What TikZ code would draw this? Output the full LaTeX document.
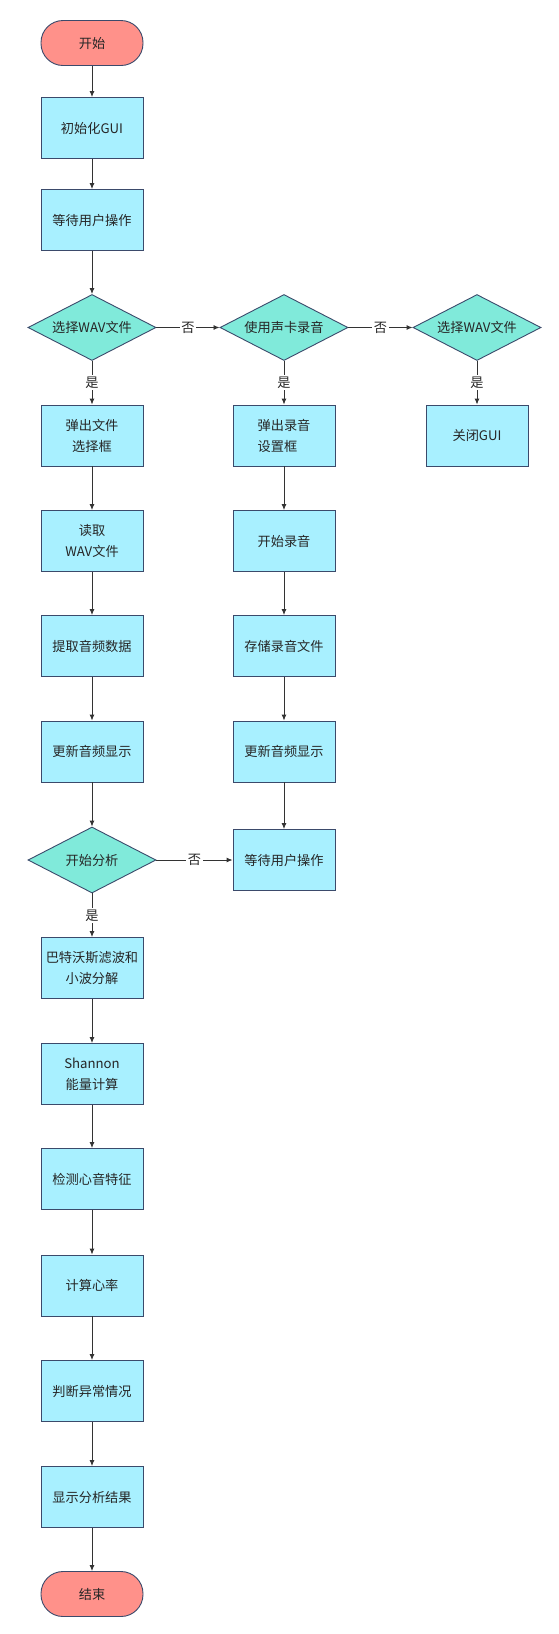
\documentclass[tikz,border=0pt]{standalone}
\usepackage{fontspec}
\newfontfamily\cjk{Noto Sans CJK SC}
\usetikzlibrary{shapes.geometric,arrows.meta}
\definecolor{termc}{HTML}{FF918A}
\definecolor{procc}{HTML}{A8F0FF}
\definecolor{decc}{HTML}{80EADA}
\definecolor{bordc}{HTML}{3B4A6B}
\definecolor{linec}{HTML}{333333}
\begin{document}
\begin{tikzpicture}[x=1pt,y=-1pt,
  every node/.style={font=\cjk\fontsize{13.2}{21}\selectfont, text=black!85},
  base/.style={draw=bordc, line width=0.9pt, inner sep=2pt, align=center},
  term/.style={base, fill=termc, rounded corners=22pt, minimum width=102pt, minimum height=45pt},
  proc/.style={base, fill=procc, minimum width=102pt, minimum height=61pt},
  dec/.style={base, diamond, fill=decc, minimum width=128pt, minimum height=66pt, inner sep=0pt, aspect=1.94},
  arr/.style={draw=linec, line width=0.9pt, -{Latex[length=6pt,width=5pt]}},
  lab/.style={fill=white, inner sep=1.5pt}]
\fill[white] (0,0) rectangle (559,1634);
\useasboundingbox (0,0) rectangle (559,1634);
% column 1
\node[term] (start) at (92,43) {开始};
\node[proc] (init) at (92,128) {初始化GUI};
\node[proc] (wait) at (92,220) {等待用户操作};
\node[dec] (d1) at (92,327.5) {选择WAV文件};
\node[dec] (d2) at (284,327.5) {使用声卡录音};
\node[dec] (d3) at (477,327.5) {选择WAV文件};
\node[proc] (popf) at (92,435.5) {弹出文件\\选择框};
\node[proc] (readw) at (92,541) {读取\\WAV文件};
\node[proc] (extr) at (92,646) {提取音频数据};
\node[proc] (upd1) at (92,751.5) {更新音频显示};
\node[dec] (ana) at (92,860) {开始分析};
\node[proc] (bw) at (92,968) {巴特沃斯滤波和\\小波分解};
\node[proc] (sh) at (92,1074) {Shannon\\能量计算};
\node[proc] (det) at (92,1179) {检测心音特征};
\node[proc] (hr) at (92,1285.5) {计算心率};
\node[proc] (abn) at (92,1391) {判断异常情况};
\node[proc] (show) at (92,1497) {显示分析结果};
\node[term] (end) at (92,1594) {结束};
% column 2
\node[proc, align=left] (popr) at (284,435.5) {弹出录音\\设置框};
\node[proc] (rec) at (284,541) {开始录音};
\node[proc] (store) at (284,646) {存储录音文件};
\node[proc] (upd2) at (284,751.5) {更新音频显示};
\node[proc] (wait2) at (284,860) {等待用户操作};
% column 3
\node[proc] (close) at (477,435.5) {关闭GUI};
% connectors
\draw[arr] (start) -- (init);
\draw[arr] (init) -- (wait);
\draw[arr] (wait) -- (d1);
\draw[arr] (d1) -- node[lab] {否} (d2);
\draw[arr] (d2) -- node[lab] {否} (d3);
\draw[arr] (d1) -- node[lab] {是} (popf);
\draw[arr] (d2) -- node[lab] {是} (popr);
\draw[arr] (d3) -- node[lab] {是} (close);
\draw[arr] (popf) -- (readw);
\draw[arr] (readw) -- (extr);
\draw[arr] (extr) -- (upd1);
\draw[arr] (upd1) -- (ana);
\draw[arr] (ana) -- node[lab] {否} (wait2);
\draw[arr] (ana) -- node[lab] {是} (bw);
\draw[arr] (bw) -- (sh);
\draw[arr] (sh) -- (det);
\draw[arr] (det) -- (hr);
\draw[arr] (hr) -- (abn);
\draw[arr] (abn) -- (show);
\draw[arr] (show) -- (end);
\draw[arr] (popr) -- (rec);
\draw[arr] (rec) -- (store);
\draw[arr] (store) -- (upd2);
\draw[arr] (upd2) -- (wait2);
\end{tikzpicture}
\end{document}
